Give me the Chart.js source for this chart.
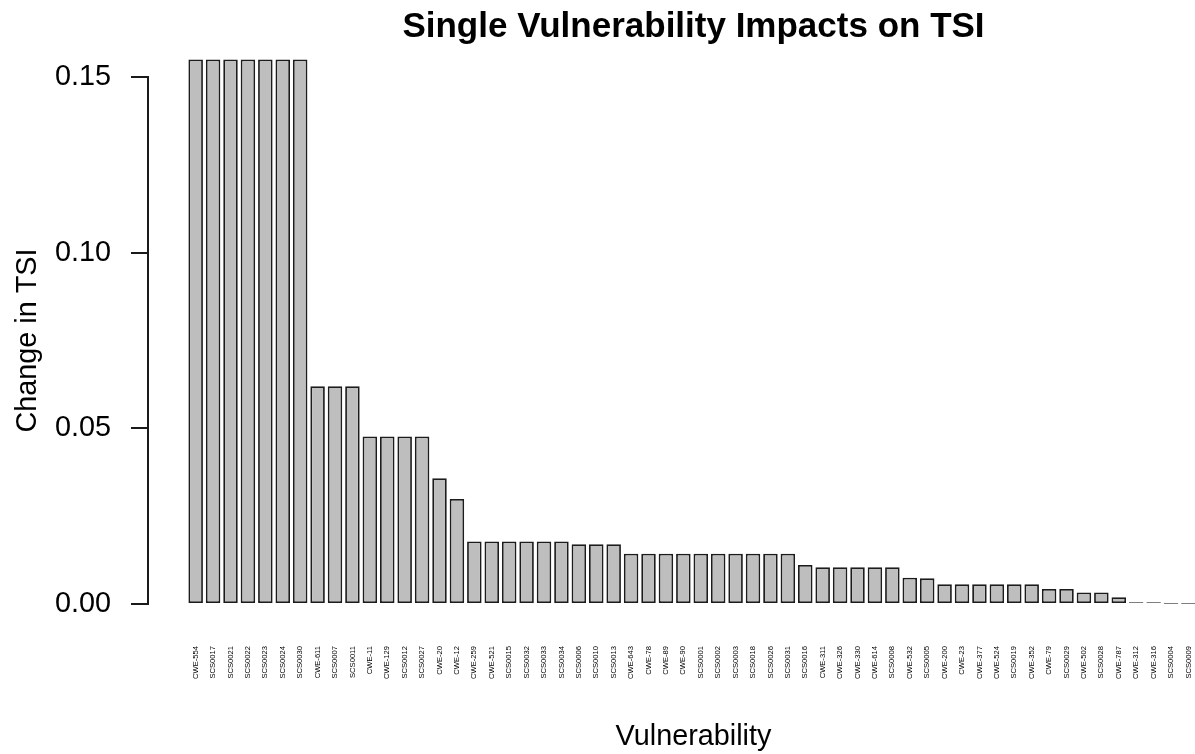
<!DOCTYPE html>
<html>
<head>
<meta charset="utf-8">
<title>Single Vulnerability Impacts on TSI</title>
<script src="https://cdn.jsdelivr.net/npm/chart.js@4.4.1/dist/chart.umd.min.js"></script>
<style>
    html, body { margin:0; padding:0; background:#fff; overflow:hidden; }
    #wrap { position:relative; width:1260px; height:754px; }
</style>
</head>
<body>
<div id="wrap"><canvas id="tsiChart"></canvas></div>
<script>

/* ==========================================================
   DATA
========================================================== */

const vulnerabilities = [
    "CWE-554", "SCS0017", "SCS0021", "SCS0022", "SCS0023", "SCS0024", "SCS0030",
    "CWE-611", "SCS0007", "SCS0011",
    "CWE-11", "CWE-129", "SCS0012", "SCS0027",
    "CWE-20", "CWE-12",
    "CWE-259", "CWE-521", "SCS0015", "SCS0032", "SCS0033", "SCS0034",
    "SCS0006", "SCS0010", "SCS0013",
    "CWE-643", "CWE-78", "CWE-89", "CWE-90", "SCS0001", "SCS0002", "SCS0003", "SCS0018", "SCS0026", "SCS0031",
    "SCS0016",
    "CWE-311", "CWE-326", "CWE-330", "CWE-614", "SCS0008",
    "CWE-532", "SCS0005",
    "CWE-200", "CWE-23", "CWE-377", "CWE-524", "SCS0019", "CWE-352",
    "CWE-79", "SCS0029",
    "CWE-502", "SCS0028",
    "CWE-787",
    "CWE-312", "CWE-316",
    "SCS0004", "SCS0009"
];

const tsiChange = [
    0.155, 0.155, 0.155, 0.155, 0.155, 0.155, 0.155,
    0.062, 0.062, 0.062,
    0.0477, 0.0477, 0.0477, 0.0477,
    0.0358, 0.0299,
    0.0178, 0.0178, 0.0178, 0.0178, 0.0178, 0.0178,
    0.0170, 0.0170, 0.0170,
    0.0143, 0.0143, 0.0143, 0.0143, 0.0143, 0.0143, 0.0143, 0.0143, 0.0143, 0.0143,
    0.0111,
    0.01045, 0.01045, 0.01045, 0.01045, 0.01045,
    0.0075, 0.0073,
    0.0056, 0.0056, 0.0056, 0.0056, 0.0056, 0.0056,
    0.0043, 0.0043,
    0.0033, 0.0033,
    0.0019,
    0.0005, 0.0005,
    0.0001, 0.0001
];

const yTickValues = [0, 0.05, 0.10, 0.15];


/* ==========================================================
   GLOBAL SETTINGS
========================================================== */

Chart.defaults.font.family = "'Liberation Sans', Arial, Helvetica, sans-serif";
Chart.defaults.color = "#000";
Chart.defaults.animation = false;

const axisColour = "#1a1a1a";
const labelFont = { size: 28.8 };


/* ==========================================================
   BAR CHART
========================================================== */

const ctx = document.getElementById("tsiChart").getContext("2d");

const tsiChart = new Chart(ctx, {

    type: "bar",

    data: {
        datasets: [
            {
                label: "Change in TSI",
                data: tsiChange.map((v, i) => ({ x: i, y: v })),
                backgroundColor: "#bebebe",
                borderColor: "#1c1c1c",
                borderWidth: 1.8,
                borderSkipped: false,
                categoryPercentage: 1,
                barPercentage: 1 / 1.2,
                clip: false
            }
        ]
    },

    options: {
        responsive: true,
        maintainAspectRatio: false,
        layout: { padding: { left: 0, right: 21, top: 0, bottom: 0 } },

        plugins: {
            legend: { display: false },
            tooltip: { enabled: false },
            title: {
                display: true,
                text: "Single Vulnerability Impacts on TSI",
                fullSize: false,
                color: "#000",
                font: { size: 35, weight: "bold" },
                padding: { top: 6, bottom: 29 }
            }
        },

        scales: {

            x: {
                type: "linear",
                bounds: "data",
                offset: false,
                // R barplot pads the bar range by 4% on each side
                min: -2.737,
                max: 59.903,
                afterBuildTicks: function(scale) {
                    scale.ticks = vulnerabilities.map((_, i) => ({ value: i }));
                },
                afterFit: function(scale) {
                    scale.height = 150;
                },
                grid: { display: false, drawTicks: false },
                border: { display: false },
                ticks: {
                    autoSkip: false,
                    minRotation: 90,
                    maxRotation: 90,
                    padding: 42,
                    font: { size: 7.6 },
                    color: "#000",
                    callback: function(value) {
                        return vulnerabilities[value];
                    }
                },
                title: {
                    display: true,
                    text: "Vulnerability",
                    font: labelFont,
                    color: "#000",
                    padding: { top: 0, bottom: 0 }
                }
            },

            y: {
                min: 0,
                max: 0.15,
                afterBuildTicks: function(scale) {
                    scale.ticks = yTickValues.map(v => ({ value: v }));
                },
                afterFit: function(scale) {
                    scale.width = 148;
                },
                grid: {
                    drawOnChartArea: false,
                    drawTicks: true,
                    tickLength: 17,
                    color: axisColour,
                    lineWidth: 2
                },
                border: { display: true, color: axisColour, width: 2 },
                ticks: {
                    padding: 20,
                    font: labelFont,
                    color: "#000",
                    callback: function(value) {
                        return Number(value).toFixed(2);
                    }
                },
                title: {
                    display: true,
                    text: "Change in TSI",
                    font: labelFont,
                    color: "#000",
                    padding: { top: 11, bottom: 0 }
                }
            }
        }
    }

});

</script>
</body>
</html>
